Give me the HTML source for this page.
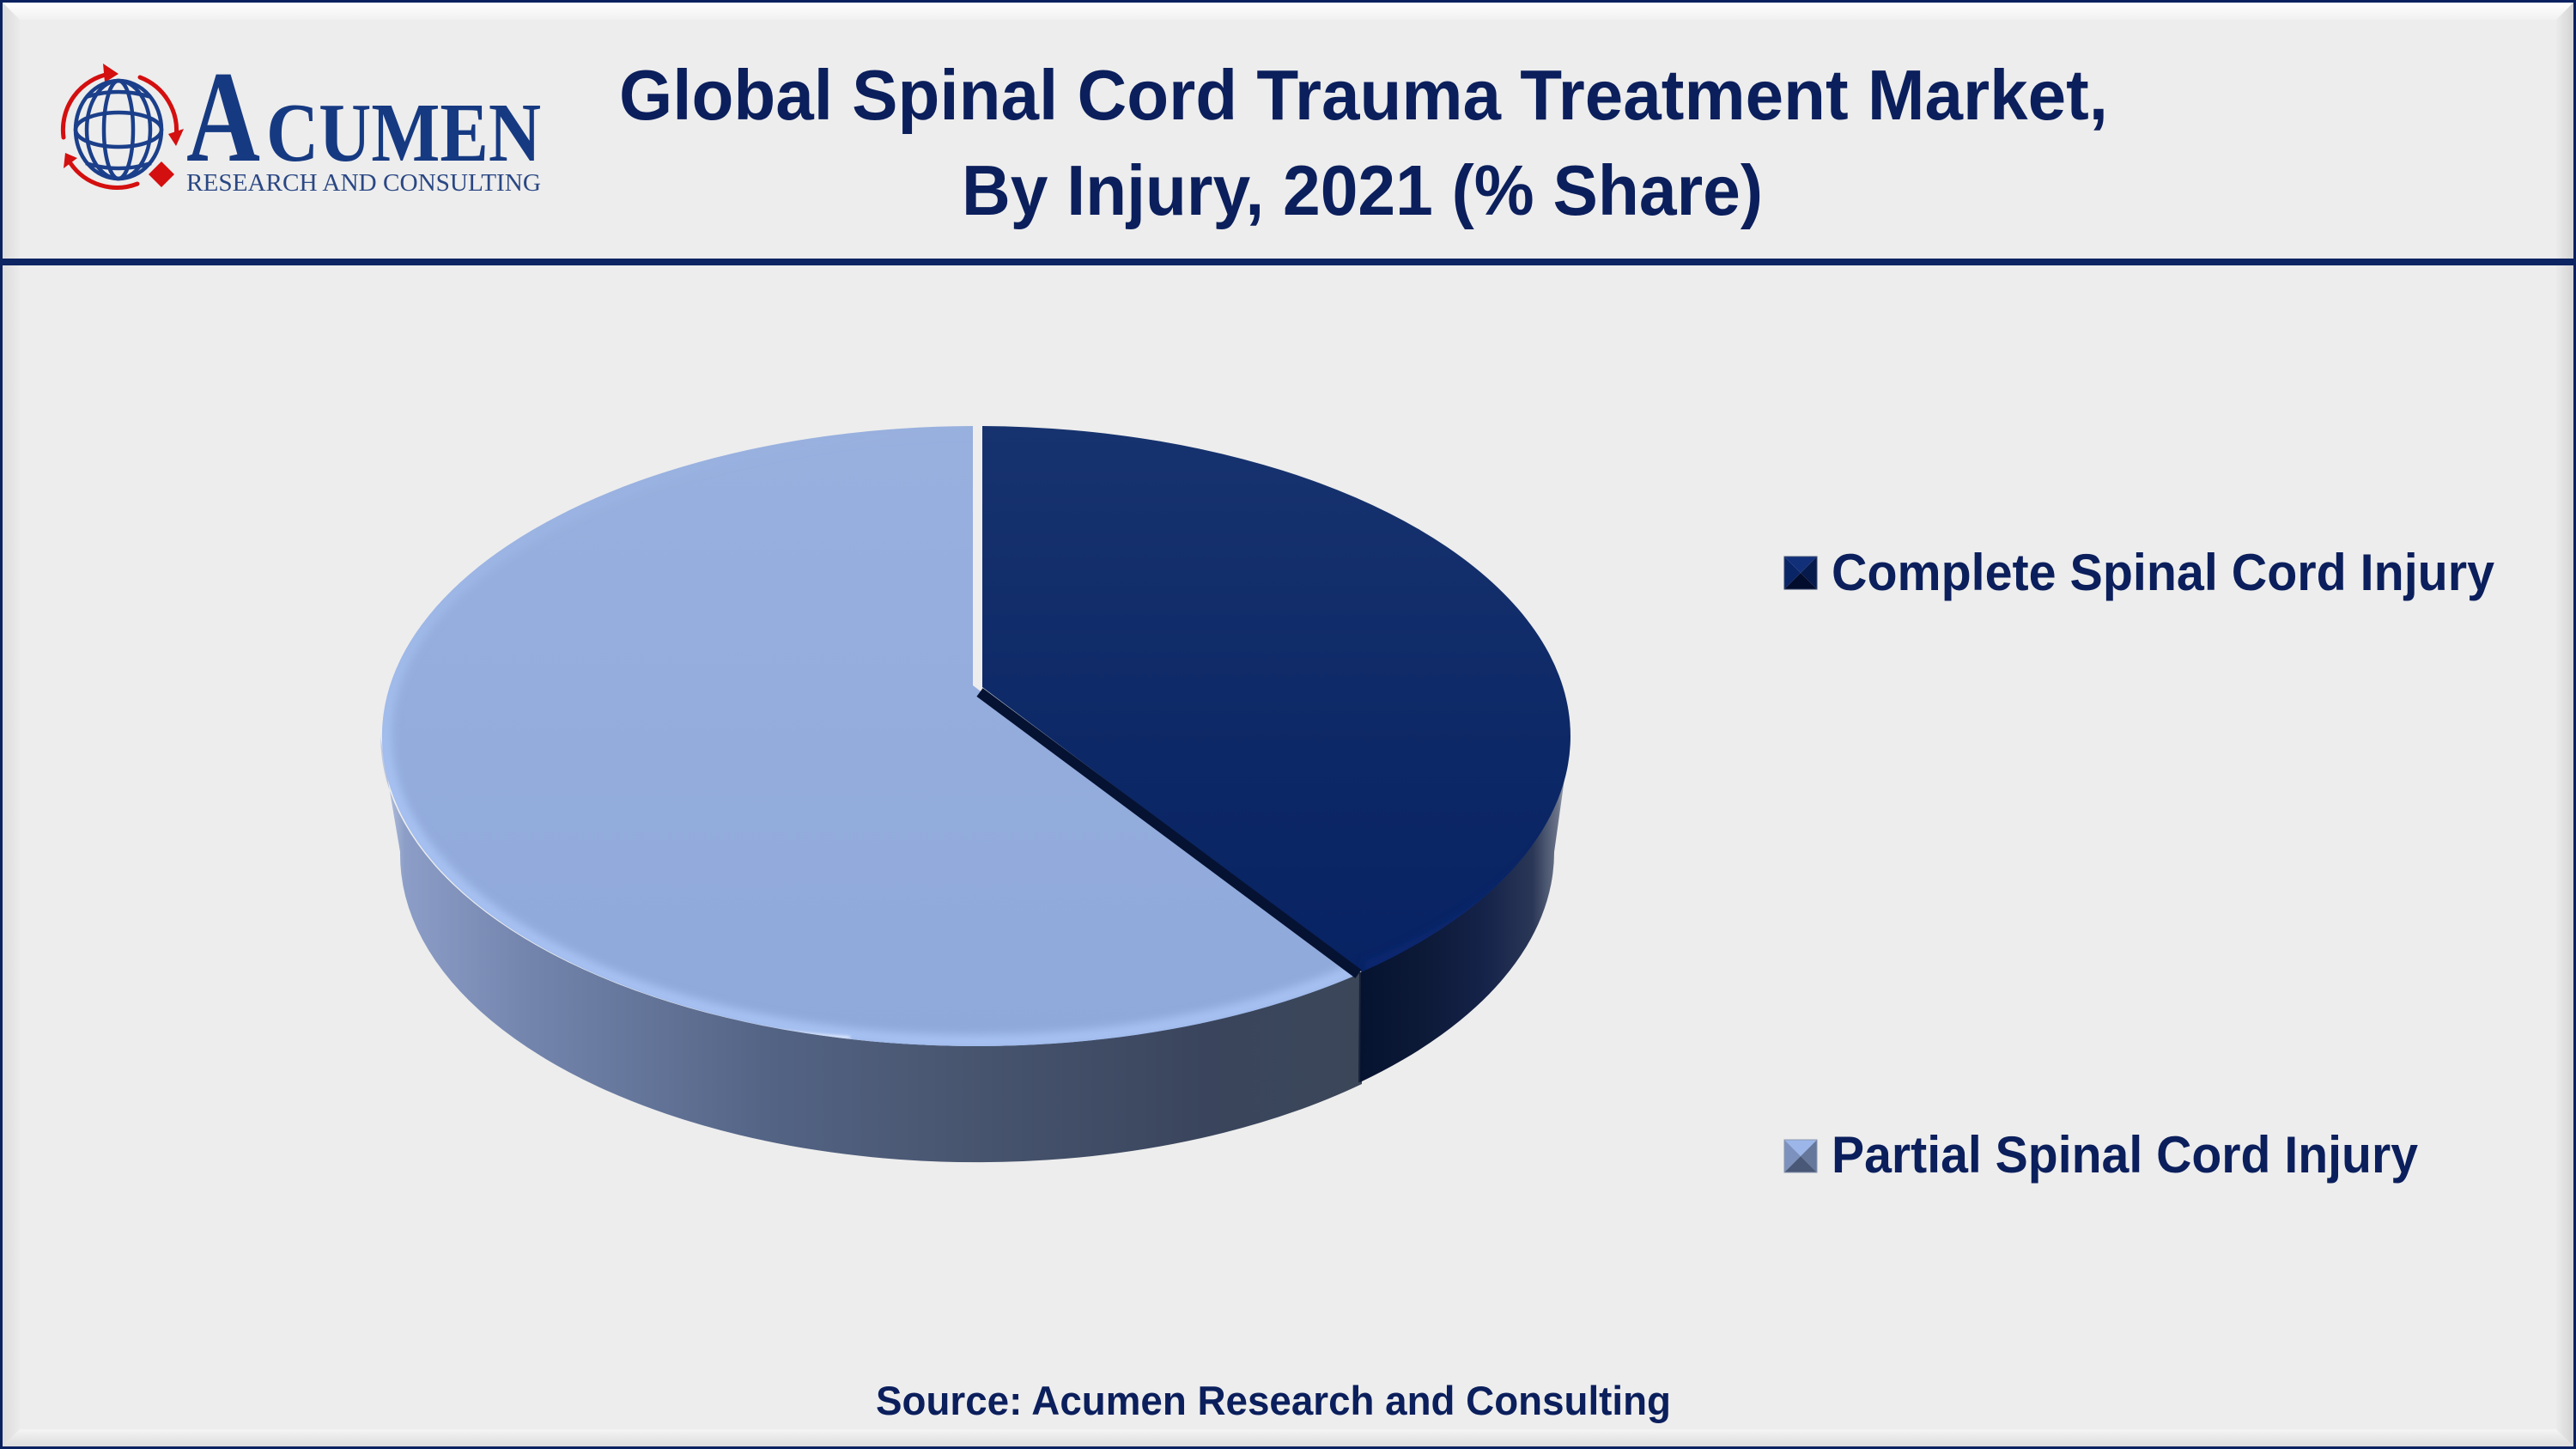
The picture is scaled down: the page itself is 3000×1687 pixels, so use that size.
<!DOCTYPE html>
<html>
<head>
<meta charset="utf-8">
<style>
html,body{margin:0;padding:0;background:#ededed;}
body{width:3000px;height:1687px;overflow:hidden;}
svg{display:block;}
</style>
</head>
<body>
<svg width="3000" height="1687" viewBox="0 0 3000 1687" xmlns="http://www.w3.org/2000/svg">
<defs>
  <linearGradient id="gTop" x1="0" y1="0" x2="0" y2="1">
    <stop offset="0" stop-color="#ffffff"/><stop offset="1" stop-color="#f1f1f1"/>
  </linearGradient>
  <linearGradient id="gLeft" x1="0" y1="0" x2="1" y2="0">
    <stop offset="0" stop-color="#dcdcdc"/><stop offset="1" stop-color="#ebebeb"/>
  </linearGradient>
  <linearGradient id="gRight" x1="0" y1="0" x2="1" y2="0">
    <stop offset="0" stop-color="#ebebeb"/><stop offset="1" stop-color="#d4d4d4"/>
  </linearGradient>
  <linearGradient id="gBot" x1="0" y1="0" x2="0" y2="1">
    <stop offset="0" stop-color="#f5f5f5"/><stop offset="1" stop-color="#dcdcdc"/>
  </linearGradient>

  <linearGradient id="lightSide" gradientUnits="userSpaceOnUse" x1="443" y1="0" x2="1584" y2="0">
    <stop offset="0" stop-color="#c4cfe6"/>
    <stop offset="0.025" stop-color="#8c9ec7"/>
    <stop offset="0.15" stop-color="#7385ad"/>
    <stop offset="0.4" stop-color="#536384"/>
    <stop offset="0.6" stop-color="#48556f"/>
    <stop offset="0.84" stop-color="#3a455d"/>
    <stop offset="1" stop-color="#3b4659"/>
  </linearGradient>
  <linearGradient id="darkSide" gradientUnits="userSpaceOnUse" x1="1584" y1="0" x2="1829" y2="0">
    <stop offset="0" stop-color="#061330"/>
    <stop offset="0.3" stop-color="#0c1937"/>
    <stop offset="0.6" stop-color="#16234a"/>
    <stop offset="0.82" stop-color="#2a3756"/>
    <stop offset="0.94" stop-color="#6a7388"/>
    <stop offset="1" stop-color="#c8ccd4"/>
  </linearGradient>
  <linearGradient id="lightTop" x1="0" y1="0" x2="0" y2="1">
    <stop offset="0" stop-color="#98b0de"/>
    <stop offset="1" stop-color="#8fa9db"/>
  </linearGradient>
  <linearGradient id="darkTop" x1="0" y1="0" x2="0" y2="1">
    <stop offset="0" stop-color="#17336f"/>
    <stop offset="0.6" stop-color="#0d2866"/>
    <stop offset="1" stop-color="#082363"/>
  </linearGradient>
  <linearGradient id="rimGrad" gradientUnits="userSpaceOnUse" x1="0" y1="496" x2="0" y2="1218">
    <stop offset="0" stop-color="#aac5f5" stop-opacity="0"/>
    <stop offset="0.35" stop-color="#aac5f5" stop-opacity="0.5"/>
    <stop offset="0.6" stop-color="#aac5f5" stop-opacity="0.9"/>
    <stop offset="1" stop-color="#aac5f5" stop-opacity="0.9"/>
  </linearGradient>
  <filter id="blur6" x="-10%" y="-10%" width="120%" height="120%">
    <feGaussianBlur stdDeviation="5"/>
  </filter>
  <filter id="blur2" x="-10%" y="-10%" width="120%" height="120%">
    <feGaussianBlur stdDeviation="1.5"/>
  </filter>
  <clipPath id="clipLight">
    <path d="M 1133,798 L 1133,496 A 693 361 0 1 0 1580,1135 Z"/>
  </clipPath>
  <clipPath id="clipDark">
    <path d="M 1144,800 L 1144,496 A 693 361 0 0 1 1586,1131.5 Z"/>
  </clipPath>
</defs>

<!-- background -->
<rect x="0" y="0" width="3000" height="1687" fill="#ededed"/>

<!-- bevel frame -->
<polygon points="3,3 2997,3 2977,23 23,23" fill="url(#gTop)"/>
<polygon points="3,3 23,23 23,1664 3,1684" fill="url(#gLeft)"/>
<polygon points="2997,3 2997,1684 2977,1664 2977,23" fill="url(#gRight)"/>
<polygon points="3,1684 23,1664 2977,1664 2997,1684" fill="url(#gBot)"/>
<rect x="1.5" y="1.5" width="2997" height="1684" fill="none" stroke="#0a2160" stroke-width="3"/>

<!-- header separator -->
<rect x="0" y="301" width="3000" height="8" fill="#0c2462"/>

<!-- logo -->
<g fill="none" stroke="#d40f0f" stroke-width="5" stroke-linecap="round">
  <path d="M 74,160 A 66 66 0 0 1 128,86"/>
  <path d="M 163,90 A 66 66 0 0 1 205,160"/>
  <path d="M 82,190 A 66 66 0 0 0 160,214"/>
</g>
<g fill="#d40f0f">
  <polygon points="120,74 138,86 122,96"/>
  <polygon points="196,156 214,150 205,170"/>
  <polygon points="76,178 90,184 74,196"/>
  <polygon points="188,188 203,203 188,218 173,203"/>
</g>
<g fill="none" stroke="#1b3f8a" stroke-width="4.5">
  <ellipse cx="138" cy="151" rx="50" ry="57"/>
  <ellipse cx="138" cy="151" rx="17" ry="57"/>
  <ellipse cx="138" cy="151" rx="37" ry="57"/>
  <ellipse cx="138" cy="151" rx="50" ry="20"/>
  <path d="M 100,113 Q 138,101 176,113"/>
  <path d="M 100,190 Q 138,202 176,190"/>
</g>
<g fill="#163a82" font-family="'Liberation Serif', serif">
  <text x="217" y="187" font-size="152" font-weight="bold" textLength="86" lengthAdjust="spacingAndGlyphs">A</text>
  <text x="310" y="187" font-size="97" font-weight="bold" textLength="320" lengthAdjust="spacingAndGlyphs">CUMEN</text>
  <text x="217" y="222" font-size="29" fill="#2a4784" textLength="413" lengthAdjust="spacingAndGlyphs">RESEARCH AND CONSULTING</text>
</g>

<!-- title -->
<g fill="#0b1f5c" font-family="'Liberation Sans', sans-serif" font-weight="bold">
  <text x="721" y="139" font-size="83" textLength="1734" lengthAdjust="spacingAndGlyphs">Global Spinal Cord Trauma Treatment Market,</text>
  <text x="1120" y="250" font-size="83" textLength="933" lengthAdjust="spacingAndGlyphs">By Injury, 2021 (% Share)</text>
</g>

<!-- pie sides -->
<path d="M 443,857 A 693 361 0 0 0 1586,1131.5 L 1586,1262 A 672 358 0 0 1 466,992 Z" fill="url(#lightSide)"/>
<path d="M 1584,1132 A 693 361 0 0 0 1829,857 L 1810,992 A 672 358 0 0 1 1584,1260 Z" fill="url(#darkSide)"/>
<line x1="1584" y1="1132" x2="1583" y2="1260" stroke="#1a2238" stroke-width="2"/>

<!-- pie top faces -->
<path d="M 1133,798 L 1133,496 A 693 361 0 1 0 1580,1135 Z" fill="url(#lightTop)"/>
<g clip-path="url(#clipLight)">
  <ellipse cx="1136" cy="857" rx="688" ry="356" fill="none" stroke="url(#rimGrad)" stroke-width="16" filter="url(#blur6)"/>
  <path d="M 700,1160 Q 840,1198 990,1208" fill="none" stroke="#e6eeff" stroke-width="3" filter="url(#blur2)"/>
</g>
<path d="M 1144,800 L 1144,496 A 693 361 0 0 1 1586,1131.5 Z" fill="url(#darkTop)"/>
<g clip-path="url(#clipDark)">
  <path d="M 1760,660 A 690 358 0 0 1 1590,1128" fill="none" stroke="#0c2a78" stroke-width="16" filter="url(#blur6)" opacity="0.7"/>
</g>
<!-- dark slice cut edge -->
<line x1="1141" y1="806" x2="1582" y2="1134" stroke="#061232" stroke-width="12" stroke-linecap="butt"/>

<!-- legend -->
<g>
  <polygon points="2078,648 2116,648 2097,667" fill="#12307a"/>
  <polygon points="2078,648 2097,667 2078,686" fill="#0a2566"/>
  <polygon points="2116,648 2116,686 2097,667" fill="#061a4c"/>
  <polygon points="2078,686 2116,686 2097,667" fill="#020c2c"/>
  <rect x="2078" y="648" width="38" height="38" fill="none" stroke="#3b4a6e" stroke-width="1"/>
</g>
<g>
  <polygon points="2078,1327 2116,1327 2097,1346" fill="#9cb6ea"/>
  <polygon points="2078,1327 2097,1346 2078,1365" fill="#7c91bd"/>
  <polygon points="2116,1327 2116,1365 2097,1346" fill="#66779c"/>
  <polygon points="2078,1365 2116,1365 2097,1346" fill="#4a5878"/>
  <rect x="2078" y="1327" width="38" height="38" fill="none" stroke="#8a96b0" stroke-width="1"/>
</g>
<g fill="#0b1f5c" font-family="'Liberation Sans', sans-serif" font-weight="bold">
  <text x="2133" y="687" font-size="60" textLength="772" lengthAdjust="spacingAndGlyphs">Complete Spinal Cord Injury</text>
  <text x="2133" y="1365" font-size="60" textLength="683" lengthAdjust="spacingAndGlyphs">Partial Spinal Cord Injury</text>
  <text x="1020" y="1647" font-size="47" textLength="926" lengthAdjust="spacingAndGlyphs">Source: Acumen Research and Consulting</text>
</g>
</svg>
</body>
</html>
